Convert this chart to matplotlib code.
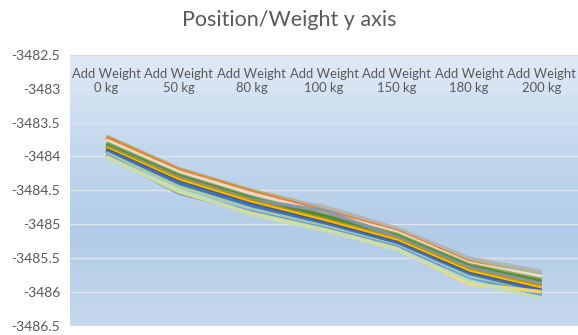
import numpy as np
import matplotlib
matplotlib.use('Agg')
import matplotlib.pyplot as plt
from matplotlib.colors import LinearSegmentedColormap

plt.rcParams['font.family'] = ['Lato', 'DejaVu Sans']

# categories along the x axis
weights = ['0 kg', '50 kg', '80 kg', '100 kg', '150 kg', '180 kg', '200 kg']
labels = ['Add Weight\n' + w for w in weights]

# y position of each run (one line per run)
run_olive  = [-3483.70, -3484.18, -3484.50, -3484.76, -3485.07, -3485.52, -3485.72]
run_orange = [-3483.72, -3484.20, -3484.52, -3484.80, -3485.10, -3485.56, -3485.80]
run_pale   = [-3483.76, -3484.23, -3484.55, -3484.83, -3485.12, -3485.58, -3485.78]
run_gray   = [-3483.80, -3484.22, -3484.56, -3484.74, -3485.06, -3485.50, -3485.70]
run_green  = [-3483.80, -3484.27, -3484.60, -3484.86, -3485.15, -3485.60, -3485.82]
run_dgreen = [-3483.83, -3484.29, -3484.62, -3484.88, -3485.17, -3485.62, -3485.85]
run_slate  = [-3483.85, -3484.31, -3484.64, -3484.80, -3485.19, -3485.64, -3485.88]
run_gold   = [-3483.86, -3484.33, -3484.66, -3484.93, -3485.22, -3485.68, -3485.92]
run_yellow = [-3483.88, -3484.35, -3484.68, -3484.95, -3485.24, -3485.70, -3485.95]
run_navy   = [-3483.90, -3484.38, -3484.71, -3484.98, -3485.27, -3485.73, -3485.98]
run_blue   = [-3483.92, -3484.40, -3484.73, -3485.00, -3485.29, -3485.75, -3486.00]
run_lgreen = [-3483.95, -3484.45, -3484.78, -3485.03, -3485.32, -3485.78, -3486.04]
run_sky    = [-3483.97, -3484.50, -3484.80, -3485.05, -3485.33, -3485.80, -3486.06]
run_steel  = [-3483.98, -3484.54, -3484.82, -3485.06, -3485.34, -3485.82, -3486.03]
run_lyel   = [-3484.00, -3484.52, -3484.84, -3485.08, -3485.36, -3485.88, -3486.00]
run_mint   = [-3484.02, -3484.50, -3484.86, -3485.09, -3485.37, -3485.84, -3486.10]

runs = [
    (run_olive,  '#a9b46c'),
    (run_gray,   '#b4b4b4'),
    (run_orange, '#ed7d31'),
    (run_pale,   '#f4e0d8'),
    (run_green,  '#70ad47'),
    (run_dgreen, '#548235'),
    (run_slate,  '#8497b0'),
    (run_gold,   '#bf9000'),
    (run_yellow, '#ffc000'),
    (run_navy,   '#2f4f8f'),
    (run_blue,   '#4472c4'),
    (run_lgreen, '#a9d18e'),
    (run_sky,    '#9dc3e6'),
    (run_steel,  '#5b9bd5'),
    (run_lyel,   '#ffd966'),
    (run_mint,   '#c5e0b4'),
]

y_ticks = [-3482.5, -3483, -3483.5, -3484, -3484.5, -3485, -3485.5, -3486, -3486.5]

fig = plt.figure(figsize=(5.78, 3.35), dpi=100)
ax = fig.add_axes([0.121, 0.028, 0.879, 0.808])

# gradient plot-area fill
bg = LinearSegmentedColormap.from_list('bg', ['#c6d9ee', '#b2cbe6', '#c4d8ee', '#e0eaf5'])
grad = np.linspace(0, 1, 256).reshape(-1, 1)
ax.imshow(grad, cmap=bg, aspect='auto', extent=[0, 1, 0, 1],
          transform=ax.transAxes, origin='lower', zorder=0)

x = np.arange(len(weights))
for vals, col in runs:
    ax.plot(x, vals, color=col, lw=2.6, alpha=0.9, solid_capstyle='butt', zorder=3)

ax.set_xlim(-0.5, len(weights) - 0.5)
ax.set_ylim(-3486.5, -3482.5)
ax.set_yticks(y_ticks)
ax.set_yticklabels([f'{v:g}' for v in y_ticks])
ax.yaxis.grid(True, color='#dde6ef', lw=1.0, zorder=1)
ax.tick_params(axis='y', length=0, labelsize=10, labelcolor='#595959', pad=7)
ax.set_xticks([])
for s in ax.spines.values():
    s.set_visible(False)
ax.axhline(-3482.5, color='#d9d9d9', lw=1.0, zorder=2)

# category labels sit just under the top of the plot area
for i, lab in enumerate(labels):
    ax.text(i, -3482.70, lab, ha='center', va='top', fontsize=9.4,
            color='#595959', linespacing=1.2, zorder=4)

fig.text(0.5, 0.94, 'Position/Weight y axis', ha='center', va='center',
         fontsize=15.5, color='#595959')

fig.savefig('out.png', dpi=100)
